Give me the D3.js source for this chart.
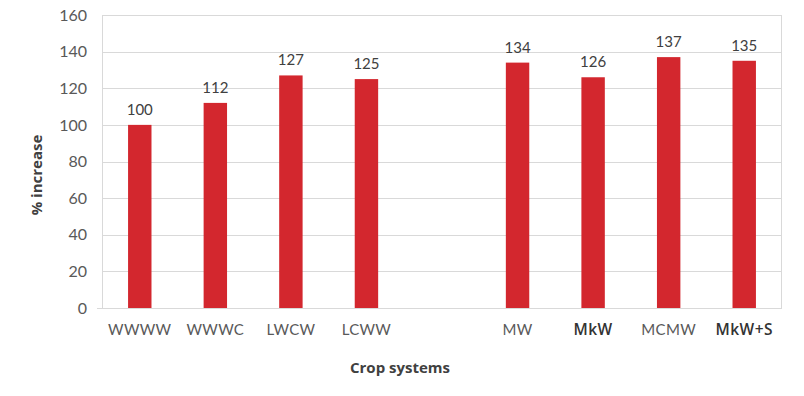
<!DOCTYPE html>
<html>
<head>
<meta charset="utf-8">
<script src="https://cdn.jsdelivr.net/npm/d3@7"></script>
<style>
  html, body { margin: 0; padding: 0; background: #fff; }
  svg { display: block; }
</style>
</head>
<body>
<svg id="chart" width="804" height="396"></svg>
<script>
// Data
const categories = ["WWWW", "WWWC", "LWCW", "LCWW", "gap", "MW", "MkW", "MCMW", "MkW+S"];
const values = [100, 112, 127, 125, null, 134, 126, 137, 135];
const categoryLabels = ["WWWW", "WWWC", "LWCW", "LCWW", "", "MW", "MkW", "MCMW", "MkW+S"];
const boldLabels = ["MkW", "MkW+S"];
const yTicks = [0, 20, 40, 60, 80, 100, 120, 140, 160];
const yTitle = "% increase";
const xTitle = "Crop systems";

const svg = d3.select("#chart");
const margin = { left: 102, right: 22, top: 15, bottom: 88 };
const W = 804, H = 396;
const plotW = W - margin.left - margin.right;
const plotH = H - margin.top - margin.bottom;

const g = svg.append("g").attr("transform", `translate(${margin.left},${margin.top})`);

const x = d3.scaleBand().domain(categories).range([0, plotW]).paddingInner(0).paddingOuter(0);
const y = d3.scaleLinear().domain([0, 160]).range([plotH, 0]);

const gridColor = "#d9d9d9";
const labelFont = "Lato, 'Open Sans', sans-serif";

// gridlines
g.append("g").selectAll("line").data(yTicks).join("line")
  .attr("x1", 0).attr("x2", plotW)
  .attr("y1", d => Math.round(y(d)) + 0.5).attr("y2", d => Math.round(y(d)) + 0.5)
  .attr("stroke", gridColor).attr("stroke-width", 1);

// left and right border
g.append("line").attr("x1", 0.5).attr("x2", 0.5).attr("y1", 0).attr("y2", plotH)
  .attr("stroke", gridColor);
g.append("line").attr("x1", plotW - 0.5).attr("x2", plotW - 0.5).attr("y1", 0).attr("y2", plotH)
  .attr("stroke", gridColor);
// small extension of baseline to the left
g.append("line").attr("x1", -5).attr("x2", 0).attr("y1", Math.round(y(0)) + 0.5).attr("y2", Math.round(y(0)) + 0.5)
  .attr("stroke", gridColor);

// y axis labels
const yAxis = d3.axisLeft(y).tickValues(yTicks).tickSize(0).tickPadding(15);
const ya = g.append("g").call(yAxis);
ya.select(".domain").remove();
ya.selectAll("text").attr("font-family", labelFont).attr("font-size", 16).attr("fill", "#595959");

// bars
const data = categories.map((c, i) => ({ c, v: values[i], label: categoryLabels[i] }));
const barW = x.bandwidth() * 0.31;
g.append("g").selectAll("rect").data(data.filter(d => d.v != null)).join("rect")
  .attr("x", d => x(d.c) + (x.bandwidth() - barW) / 2)
  .attr("y", d => y(d.v))
  .attr("width", barW)
  .attr("height", d => y(0) - y(d.v))
  .attr("fill", "#d3272e");

// value labels
g.append("g").selectAll("text").data(data.filter(d => d.v != null)).join("text")
  .attr("x", d => x(d.c) + x.bandwidth() / 2)
  .attr("y", d => y(d.v) - 10)
  .attr("text-anchor", "middle")
  .attr("font-family", labelFont).attr("font-size", 15).attr("fill", "#404040")
  .text(d => d.v);

// x axis labels
const xAxis = d3.axisBottom(x).tickSize(0).tickPadding(16).tickFormat((d, i) => categoryLabels[i]);
const xa = g.append("g").attr("transform", `translate(0,${plotH})`).call(xAxis);
xa.select(".domain").remove();
xa.selectAll("text")
  .attr("font-family", d => boldLabels.includes(d) ? "'Open Sans', sans-serif" : labelFont)
  .attr("font-size", d => boldLabels.includes(d) ? 15.5 : 15)
  .attr("font-weight", d => boldLabels.includes(d) ? 600 : 400)
  .attr("letter-spacing", d => boldLabels.includes(d) ? "0.5px" : "0.3px")
  .attr("fill", d => boldLabels.includes(d) ? "#333" : "#595959");

// axis titles
svg.append("text")
  .attr("transform", `translate(42,${175}) rotate(-90)`)
  .attr("text-anchor", "middle")
  .attr("font-family", "'Open Sans', sans-serif").attr("font-weight", 700)
  .attr("font-size", 15).attr("fill", "#404040")
  .text(yTitle);

svg.append("text")
  .attr("x", 400).attr("y", 373)
  .attr("text-anchor", "middle")
  .attr("font-family", "'Open Sans', sans-serif").attr("font-weight", 700)
  .attr("font-size", 15).attr("fill", "#404040")
  .text(xTitle);
</script>
</body>
</html>
